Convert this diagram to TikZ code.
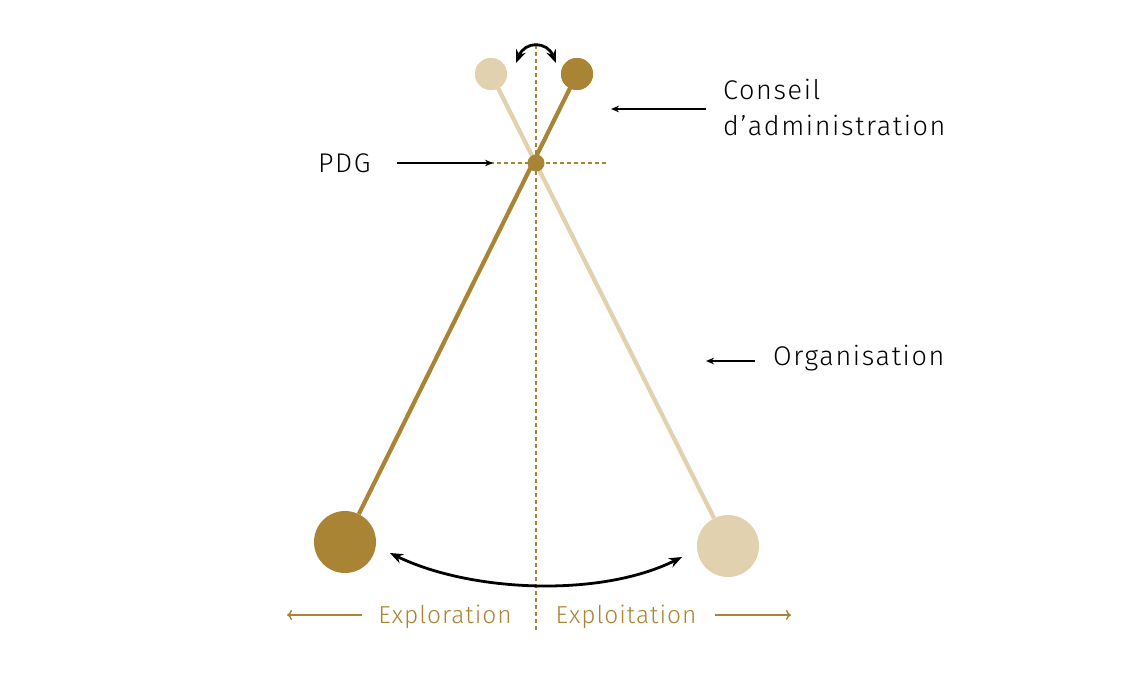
\documentclass[tikz,border=0pt]{standalone}
\usepackage{fontspec}
\setmainfont{Fira Sans Light}[LetterSpace=6]
\usetikzlibrary{arrows.meta}
\definecolor{gold}{HTML}{A98434}
\definecolor{sand}{HTML}{E1D1AE}
\begin{document}
\begin{tikzpicture}[x=1pt,y=-1pt,
  ball/.style={circle,inner sep=0pt,fill=#1,draw=none},
  rod/.style={line width=4.2pt,draw=#1},
  guide/.style={gold,dash pattern=on 4pt off 3pt,line width=1.3pt},
  lbl/.style={font=\fontsize{27}{36}\selectfont,inner sep=0pt},
  lblb/.style={font=\addfontfeatures{LetterSpace=4}\fontsize{24.5}{30}\selectfont,inner sep=0pt,text=gold},
  blk/.style={-{Stealth[length=8pt,width=6.5pt]},line width=1.5pt},
  dbl/.style={{Stealth[length=13pt,width=10pt]}-{Stealth[length=13pt,width=10pt]},line width=2.8pt},
  goldarr/.style={-{To[length=5pt,width=10pt]},gold,line width=1.4pt}]
\useasboundingbox (0,0) rectangle (1137,683);
% guides
\coordinate (vtop) at (536,45);
\coordinate (vbot) at (536,632);
\coordinate (hl) at (490,163);
\coordinate (hr) at (606,163);
\draw[guide] (vtop) -- (vbot);
\draw[guide] (hl) -- (hr);
% balls
\node[ball=sand,minimum size=32pt] (tl) at (491,74) {};
\node[ball=gold,minimum size=32pt] (tr) at (577,74) {};
\node[ball=gold,minimum size=62pt] (bl) at (345,542) {};
\node[ball=sand,minimum size=62pt] (br) at (728,546) {};
% rods
\draw[rod=sand] (tl.center) -- (br);
\draw[rod=gold] (tr.center) -- (bl);
\node[ball=sand,minimum size=32pt] at (tl) {};
\node[ball=gold,minimum size=32pt] at (tr) {};
\node[ball=gold,minimum size=17pt] (pdgdot) at (536,163) {};
% swing arrows
\coordinate (sa1) at (516,63);
\coordinate (sa2) at (556,63);
\draw[dbl] (sa1) .. controls (525,41) and (547,41) .. (sa2);
\coordinate (ba1) at (390,553);
\coordinate (ba2) at (682,557);
\draw[dbl] (ba1) .. controls (470,592) and (600,598) .. (ba2);
% labels
\node[lbl,anchor=west] (pdg) at (318,163) {PDG};
\coordinate (pdgtip) at (493,163);
\draw[blk] (397,163) -- (pdgtip);
\node[lbl,anchor=north west,align=left] (ca) at (723,79) {Conseil\\d’administration};
\coordinate (catip) at (611,109);
\draw[blk] (706,109) -- (catip);
\node[lbl,anchor=west] (org) at (773,358) {Organisation};
\coordinate (orgtip) at (706,361);
\draw[blk] (755,361) -- (orgtip);
% bottom
\node[lblb] (explo) at (445,617) {Exploration};
\node[lblb] (exploit) at (626,617) {Exploitation};
\coordinate (la) at (287,615);
\coordinate (ra) at (791,615);
\draw[goldarr] (362,615) -- (la);
\draw[goldarr] (715,615) -- (ra);
\end{tikzpicture}
\end{document}
